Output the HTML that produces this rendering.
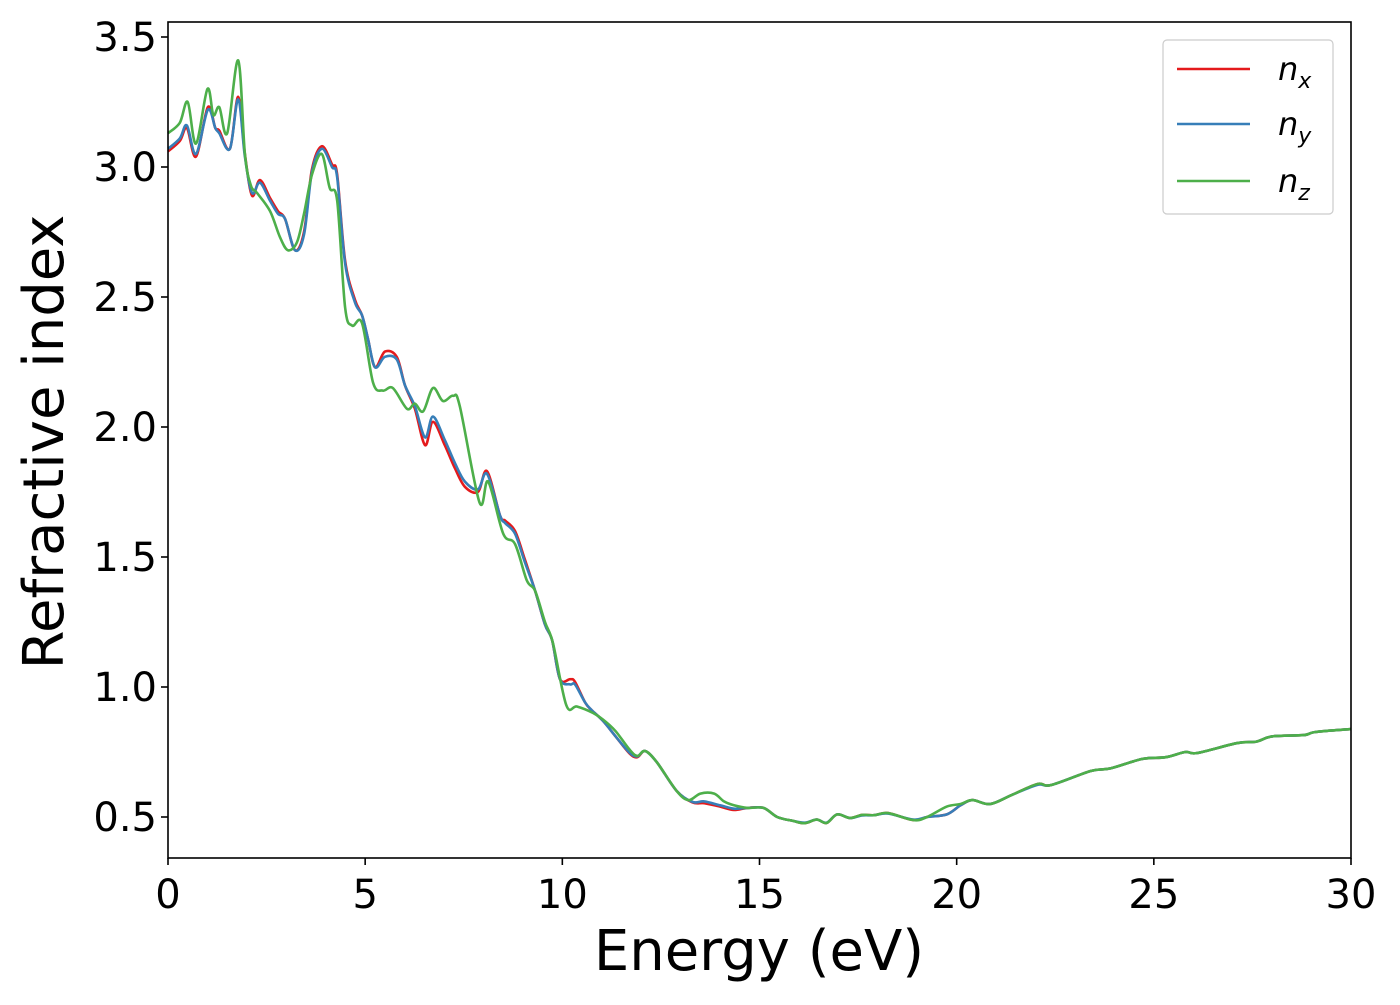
<!DOCTYPE html>
<html><head><meta charset="utf-8"><style>
body{margin:0;background:#fff;}
svg text{font-family:"DejaVu Sans","Liberation Sans",sans-serif;fill:#000;}
</style></head><body>
<svg id="chart" width="1400" height="1000" xmlns="http://www.w3.org/2000/svg">
<g id="series"></g>
<rect x="168" y="22" width="1183" height="836" fill="none" stroke="#000" stroke-width="1.6"/>
<g id="xticks"></g>
<g id="yticks"></g>
<text x="759" y="970" font-size="56" text-anchor="middle">Energy (eV)</text>
<text transform="translate(63,442) rotate(-90)" font-size="56" text-anchor="middle">Refractive index</text>
<g>
<rect x="1163" y="40" width="170" height="174" rx="4" fill="#fff" stroke="#ccc" stroke-width="1.2"/>
<g><line x1="1177" y1="69" x2="1250" y2="69" stroke="#e41a1c" stroke-width="2.6"/><text x="1278" y="80" font-size="32" font-style="italic">n<tspan font-size="22" dy="8">x</tspan></text></g>
<g><line x1="1177" y1="124" x2="1250" y2="124" stroke="#377eb8" stroke-width="2.6"/><text x="1278" y="135" font-size="32" font-style="italic">n<tspan font-size="22" dy="8">y</tspan></text></g>
<g><line x1="1177" y1="181" x2="1250" y2="181" stroke="#4daf4a" stroke-width="2.6"/><text x="1278" y="192" font-size="32" font-style="italic">n<tspan font-size="22" dy="8">z</tspan></text></g>
</g>
</svg>
<script>
const energyXY = [0,0.3,0.48,0.71,1.01,1.2,1.3,1.57,1.78,1.95,2.13,2.33,2.59,2.79,2.97,3.22,3.45,3.65,3.9,4.16,4.29,4.49,4.74,4.92,5.07,5.25,5.5,5.8,6.01,6.26,6.52,6.72,7.02,7.28,7.53,7.86,8.09,8.42,8.55,8.8,9.05,9.31,9.56,9.74,9.94,10.2,10.32,10.58,10.75,11.03,11.35,11.7,11.9,12.1,12.4,12.9,13.3,13.6,14.0,14.35,14.7,15.1,15.45,15.85,16.15,16.45,16.7,16.97,17.3,17.6,17.9,18.26,18.9,19.25,19.75,20.1,20.4,20.85,21.4,22.05,22.4,23.4,23.9,24.7,25.3,25.8,26.1,27.1,27.6,28,28.8,29.1,30];
const nxValues = [3.06,3.10,3.15,3.04,3.23,3.15,3.14,3.07,3.27,3.05,2.89,2.95,2.88,2.83,2.80,2.68,2.75,2.99,3.08,3.01,2.97,2.64,2.49,2.43,2.34,2.23,2.29,2.27,2.16,2.07,1.93,2.02,1.93,1.84,1.77,1.75,1.83,1.66,1.64,1.60,1.49,1.37,1.24,1.18,1.03,1.03,1.02,0.94,0.91,0.87,0.81,0.745,0.73,0.754,0.71,0.60,0.556,0.553,0.54,0.527,0.535,0.535,0.50,0.485,0.476,0.49,0.477,0.51,0.496,0.508,0.507,0.515,0.488,0.50,0.51,0.545,0.565,0.55,0.585,0.627,0.623,0.677,0.687,0.723,0.73,0.75,0.746,0.784,0.79,0.81,0.815,0.827,0.838];
const nyValues = [3.07,3.11,3.16,3.05,3.22,3.15,3.13,3.07,3.26,3.04,2.90,2.94,2.87,2.82,2.80,2.68,2.74,2.98,3.07,3.00,2.96,2.63,2.48,2.43,2.34,2.23,2.27,2.26,2.16,2.08,1.96,2.04,1.95,1.86,1.79,1.76,1.82,1.66,1.63,1.59,1.48,1.37,1.24,1.18,1.03,1.01,1.01,0.94,0.91,0.87,0.81,0.748,0.733,0.754,0.71,0.60,0.558,0.56,0.545,0.532,0.535,0.535,0.50,0.485,0.478,0.49,0.478,0.51,0.496,0.506,0.507,0.513,0.49,0.50,0.51,0.545,0.565,0.55,0.585,0.624,0.623,0.677,0.687,0.723,0.73,0.75,0.746,0.784,0.79,0.81,0.815,0.827,0.838];
const energyZ = [0,0.3,0.5,0.71,1.0,1.15,1.3,1.5,1.78,1.95,2.1,2.26,2.59,2.84,3.04,3.27,3.45,3.65,3.9,4.1,4.29,4.49,4.67,4.92,5.2,5.45,5.7,6.06,6.26,6.47,6.72,6.97,7.23,7.4,7.9,8.12,8.5,8.8,9.1,9.31,9.56,9.76,10.1,10.37,10.78,11.03,11.35,11.7,11.9,12.1,12.4,12.9,13.2,13.5,13.85,14.1,14.35,14.7,15.1,15.45,15.85,16.15,16.45,16.7,16.97,17.3,17.6,17.9,18.26,18.9,19.25,19.75,20.1,20.4,20.85,21.4,22.05,22.4,23.4,23.9,24.7,25.3,25.8,26.1,27.1,27.6,28,28.8,29.1,30];
const nzValues = [3.13,3.17,3.25,3.09,3.30,3.20,3.23,3.13,3.41,3.05,2.93,2.90,2.83,2.73,2.68,2.71,2.82,2.97,3.05,2.92,2.87,2.46,2.39,2.40,2.17,2.14,2.15,2.07,2.09,2.06,2.15,2.10,2.12,2.08,1.71,1.79,1.59,1.55,1.41,1.37,1.25,1.17,0.93,0.925,0.90,0.875,0.83,0.76,0.735,0.754,0.71,0.60,0.565,0.59,0.59,0.56,0.545,0.535,0.535,0.50,0.485,0.476,0.49,0.477,0.51,0.496,0.508,0.507,0.515,0.488,0.50,0.54,0.55,0.565,0.55,0.585,0.627,0.623,0.677,0.687,0.723,0.73,0.75,0.746,0.784,0.79,0.81,0.815,0.827,0.838];
const xTickValues = [0,5,10,15,20,25,30];
const yTickValues = [0.5,1.0,1.5,2.0,2.5,3.0,3.5];
const yTickLabels = ["0.5","1.0","1.5","2.0","2.5","3.0","3.5"];

const NS = "http://www.w3.org/2000/svg";
const X0 = 168, X1 = 1351, XMIN = 0, XMAX = 30;
function xScale(v){ return X0 + (v - XMIN) / (XMAX - XMIN) * (X1 - X0); }
function yScale(v){ return 817 - (v - 0.5) * 260; }

function smoothPath(xs, ys){
  const p = xs.map((x,i)=>[xScale(x), yScale(ys[i])]);
  let d = "M" + p[0][0].toFixed(1) + "," + p[0][1].toFixed(1);
  for (let i=0;i<p.length-1;i++){
    const a=p[Math.max(i-1,0)], b=p[i], c=p[i+1], e=p[Math.min(i+2,p.length-1)];
    const c1=[b[0]+(c[0]-a[0])/6, b[1]+(c[1]-a[1])/6];
    const c2=[c[0]-(e[0]-b[0])/6, c[1]-(e[1]-b[1])/6];
    d += " C"+c1[0].toFixed(1)+","+c1[1].toFixed(1)+" "+c2[0].toFixed(1)+","+c2[1].toFixed(1)+" "+c[0].toFixed(1)+","+c[1].toFixed(1);
  }
  return d;
}
const series = document.getElementById("series");
function addLine(xs, ys, color, name){
  const path = document.createElementNS(NS,"path");
  path.setAttribute("d", smoothPath(xs, ys));
  path.setAttribute("fill","none");
  path.setAttribute("stroke",color);
  path.setAttribute("stroke-width","2.6");
  path.setAttribute("stroke-linejoin","round");
  
  
  series.appendChild(path);
}
addLine(energyXY, nxValues, "#e41a1c", "line-nx");
addLine(energyXY, nyValues, "#377eb8", "line-ny");
addLine(energyZ, nzValues, "#4daf4a", "line-nz");

const xg = document.getElementById("xticks");
xTickValues.forEach(v=>{
  const x = xScale(v);
  const t = document.createElementNS(NS,"line");
  t.setAttribute("x1",x); t.setAttribute("x2",x); t.setAttribute("y1",858); t.setAttribute("y2",865);
  t.setAttribute("stroke","#000"); t.setAttribute("stroke-width","1.6");
  
  
  xg.appendChild(t);
  const l = document.createElementNS(NS,"text");
  l.setAttribute("x",x); l.setAttribute("y",908); l.setAttribute("font-size","40"); l.setAttribute("text-anchor","middle");
  l.textContent = String(v);
  
  
  xg.appendChild(l);
});
const yg = document.getElementById("yticks");
yTickValues.forEach((v,i)=>{
  const y = yScale(v);
  const t = document.createElementNS(NS,"line");
  t.setAttribute("x1",161); t.setAttribute("x2",168); t.setAttribute("y1",y); t.setAttribute("y2",y);
  t.setAttribute("stroke","#000"); t.setAttribute("stroke-width","1.6");
  
  
  yg.appendChild(t);
  const l = document.createElementNS(NS,"text");
  l.setAttribute("x",157); l.setAttribute("y",y+14); l.setAttribute("font-size","40"); l.setAttribute("text-anchor","end");
  l.textContent = yTickLabels[i];
  
  
  yg.appendChild(l);
});
</script>
</body></html>
